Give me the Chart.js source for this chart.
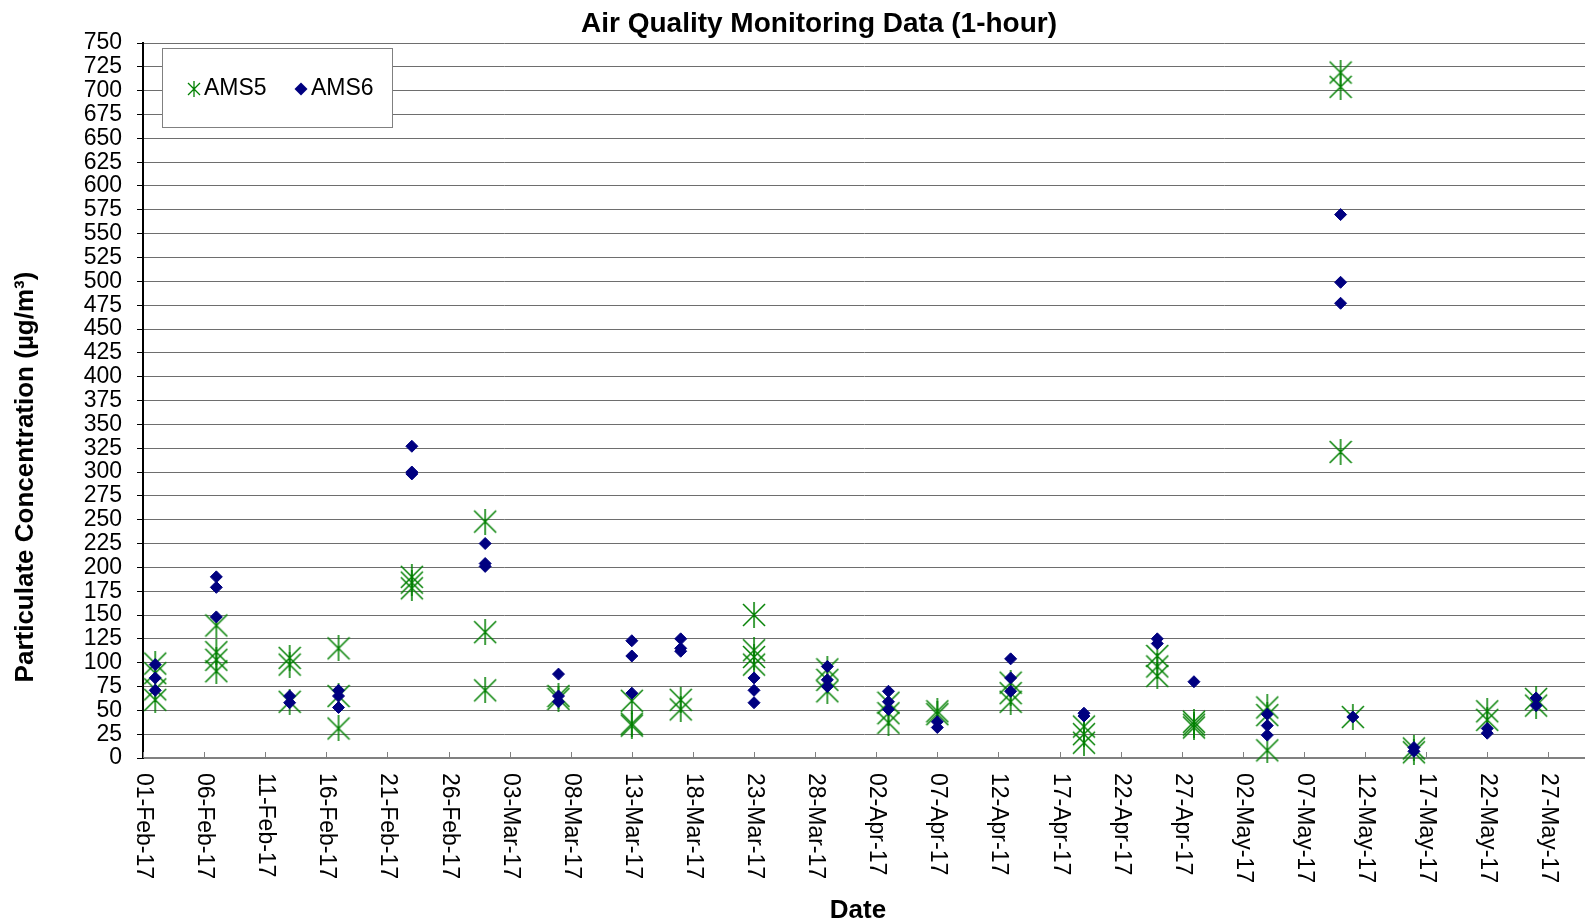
<!doctype html>
<html>
<head>
<meta charset="utf-8" />
<title>Air Quality Monitoring Data (1-hour)</title>
<script src="https://cdn.jsdelivr.net/npm/chart.js@4.4.0/dist/chart.umd.min.js"></script>
<style>
body { margin:0; background:#fff; }
#wrap { width:1585px; height:923px; position:relative; }
</style>
</head>
<body>
<div id="wrap"><canvas id="chart1"></canvas></div>
<script>
// sampling days and the hourly readings taken on each of them
var sampleDates = ['2017-02-02','2017-02-07','2017-02-13','2017-02-17','2017-02-23','2017-03-01',
  '2017-03-07','2017-03-13','2017-03-17','2017-03-23','2017-03-29','2017-04-03','2017-04-07',
  '2017-04-13','2017-04-19','2017-04-25','2017-04-28','2017-05-04','2017-05-10','2017-05-11',
  '2017-05-16','2017-05-22','2017-05-26'];

var ams5 = [[99,89,72,61],[139,111,103,91],[105,98,59],[115,65,31],[190,184,178],[248,132,71],
  [65,62],[60,36,34],[61,51],[150,113,106,98],[93,82,70],[58,47,37],[49,46],
  [79,68,59],[33,25,16],[107,96,86],[38,35,32],[53,45,8],[719,704,321],[43],
  [10,6],[49,40],[62,55]];

var ams6 = [[98,84,71],[190,179,148],[65,58],[71,65,53],[327,300,298],[225,204,201],
  [88,65,59],[123,107,68],[125,115,112],[84,71,58],[96,82,75],[70,59,51],[38,32],
  [104,84,70],[47,44],[125,120],[80],[46,34,24],[570,499,477],[43],
  [11,7],[31,26],[63,55]];

var seriesNames = ['AMS5', 'AMS6'];
var yTicks = { min: 0, max: 750, step: 25 };
var xTickStep = 5;               // days between date labels
var startDate = '2017-02-01';
var endDate = '2017-05-30';
var monthNames = ['Jan','Feb','Mar','Apr','May','Jun','Jul','Aug','Sep','Oct','Nov','Dec'];

var FONT = "'Liberation Sans', Arial, sans-serif";
var GREEN = '#008000';
var NAVY = '#000080';

function dayOf(s) {
  var p = s.split('-');
  var b = startDate.split('-');
  return (Date.UTC(+p[0], p[1]-1, +p[2]) - Date.UTC(+b[0], b[1]-1, +b[2])) / 86400000;
}
function dateLabel(v) {
  var b = startDate.split('-');
  var d = new Date(Date.UTC(+b[0], b[1]-1, +b[2] + v));
  var dd = d.getUTCDate();
  return (dd < 10 ? '0' + dd : dd) + '-' + monthNames[d.getUTCMonth()] + '-' + String(d.getUTCFullYear()).slice(2);
}
function points(groups) {
  var out = [];
  sampleDates.forEach(function(s, i) {
    groups[i].forEach(function(v) { out.push({x: dayOf(s), y: v}); });
  });
  return out;
}

// excel style star: an X with a vertical bar
function makeStar(w, h, lw) {
  var c = document.createElement('canvas');
  c.width = w; c.height = h;
  var g = c.getContext('2d');
  g.strokeStyle = GREEN; g.lineWidth = lw;
  g.beginPath();
  g.moveTo(1, 2); g.lineTo(w - 1, h - 2);
  g.moveTo(w - 1, 2); g.lineTo(1, h - 2);
  g.moveTo(w / 2, 0); g.lineTo(w / 2, h);
  g.stroke();
  return c;
}
var starBig = makeStar(24, 26, 1.5);
var starSmall = makeStar(14, 16, 1.3);

var decor = {
  id: 'decor',
  beforeDatasetsDraw: function(chart) {
    var ctx = chart.ctx, xs = chart.scales.x, area = chart.chartArea;
    ctx.save();
    ctx.strokeStyle = '#808080'; ctx.lineWidth = 1;
    ctx.fillStyle = '#000';
    ctx.font = '23px ' + FONT;
    xs.ticks.forEach(function(t) {
      var px = Math.round(xs.getPixelForValue(t.value)) + 0.5;
      ctx.beginPath(); ctx.moveTo(px, area.bottom); ctx.lineTo(px, area.bottom - 6); ctx.stroke();
      ctx.save();
      ctx.translate(px, area.bottom + 15);
      ctx.rotate(Math.PI / 2);
      ctx.textAlign = 'left'; ctx.textBaseline = 'middle';
      ctx.fillText(dateLabel(t.value), 0, 0);
      ctx.restore();
    });
    ctx.restore();
  },
  afterDraw: function(chart) {
    var ctx = chart.ctx;
    ctx.save();
    ctx.fillStyle = '#000';
    // titles
    ctx.font = 'bold 28px ' + FONT;
    ctx.textAlign = 'center'; ctx.textBaseline = 'alphabetic';
    ctx.fillText('Air Quality Monitoring Data (1-hour)', 819, 32);
    ctx.font = 'bold 26px ' + FONT;
    ctx.fillText('Date', 858, 918);
    ctx.save();
    ctx.translate(33, 477);
    ctx.rotate(-Math.PI / 2);
    ctx.fillText('Particulate Concentration (\u00b5g/m\u00b3)', 0, 0);
    ctx.restore();
    // legend box
    ctx.fillStyle = '#fff';
    ctx.fillRect(162, 48, 231, 80);
    ctx.strokeStyle = '#808080'; ctx.lineWidth = 1;
    ctx.strokeRect(162.5, 48.5, 230, 79);
    var ds = chart.data.datasets;
    ctx.drawImage(starSmall, 194 - 7, 89 - 8);
    ctx.fillStyle = NAVY;
    ctx.beginPath();
    ctx.moveTo(301, 82.5); ctx.lineTo(307.5, 89); ctx.lineTo(301, 95.5); ctx.lineTo(294.5, 89);
    ctx.closePath(); ctx.fill();
    ctx.fillStyle = '#000';
    ctx.font = '23px ' + FONT;
    ctx.textAlign = 'left'; ctx.textBaseline = 'middle';
    ctx.fillText(ds[0].label, 204, 89);
    ctx.fillText(ds[1].label, 311, 89);
    ctx.restore();
  }
};

Chart.defaults.font.family = FONT;

var chart1 = new Chart('chart1', {
  type: 'scatter',
  data: {
    datasets: [{
      label: seriesNames[0],
      data: points(ams5),
      pointStyle: starBig,
      pointRadius: 12,
      pointHoverRadius: 12,
      order: 2,
      clip: false
    }, {
      label: seriesNames[1],
      data: points(ams6),
      pointStyle: 'rectRot',
      pointRadius: 6,
      pointHoverRadius: 6,
      pointBackgroundColor: NAVY,
      pointBorderColor: NAVY,
      pointBorderWidth: 1,
      order: 1,
      clip: false
    }]
  },
  options: {
    responsive: true,
    maintainAspectRatio: false,
    animation: false,
    layout: { autoPadding: false, padding: { top: 43, left: 0, right: 0, bottom: 0 } },
    plugins: { legend: { display: false }, title: { display: false }, tooltip: { enabled: false } },
    scales: {
      x: {
        type: 'linear',
        min: 0,
        max: dayOf(endDate),
        afterFit: function(s) { s.height = 165; },
        ticks: { display: false, stepSize: xTickStep, includeBounds: false },
        grid: { display: false },
        border: { display: true, color: '#808080', width: 2 }
      },
      y: {
        min: yTicks.min,
        max: yTicks.max,
        afterFit: function(s) { s.width = 143; },
        ticks: { stepSize: yTicks.step, autoSkip: false, padding: 15, color: '#000', font: { size: 23 } },
        grid: { color: '#6e6e6e', lineWidth: 1, tickLength: 6, tickColor: '#000' },
        border: { color: '#000', width: 2 }
      }
    }
  },
  plugins: [decor]
});
</script>
</body>
</html>
